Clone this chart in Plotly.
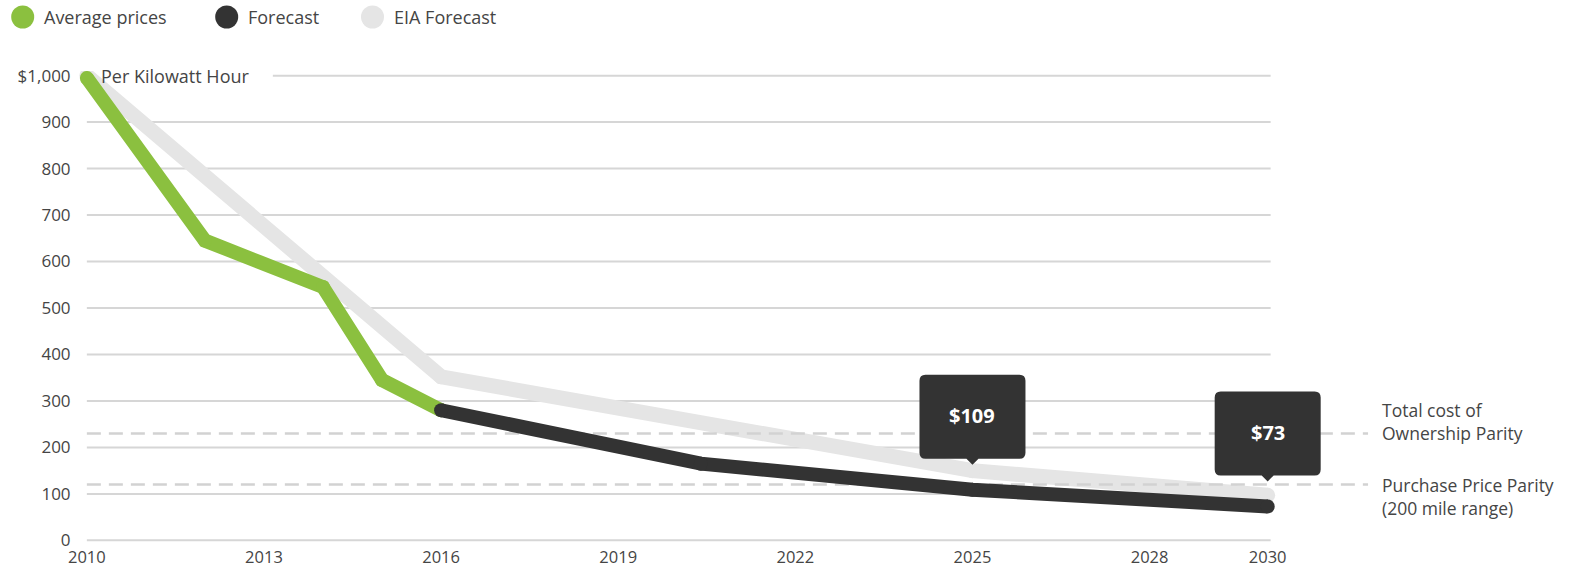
import plotly.graph_objects as go

# ---- data -------------------------------------------------------------
AVG_YEARS = [2010, 2012, 2014, 2015, 2016]
AVG_PRICE = [995, 645, 545, 345, 280]

FORECAST_YEARS = [2016, 2020.4, 2025, 2030]
FORECAST_PRICE = [280, 165, 109, 73]

EIA_YEARS = [2010, 2016, 2025, 2030]
EIA_PRICE = [1000, 352, 150, 97]

PARITY_LEVELS = [230, 120]
PARITY_LABELS = ["Total cost of<br>Ownership Parity", "Purchase Price Parity<br>(200 mile range)"]

CALLOUT_YEARS = [2025, 2030]

X_TICKS = [2010, 2013, 2016, 2019, 2022, 2025, 2028, 2030]
Y_TICKS = [0, 100, 200, 300, 400, 500, 600, 700, 800, 900, 1000]
Y_TICKTEXT = ["0", "100", "200", "300", "400", "500", "600", "700", "800", "900", "$1,000"]

LEGEND_NAMES = ["Average prices", "Forecast", "EIA Forecast"]

# ---- styling ----------------------------------------------------------
GREEN = "#8bc03f"
DARK = "#333333"
LIGHT = "#e5e5e5"
GRID = "#d6d6d6"
DASH = "#d2d2d2"
TEXT = "#454545"
FONT = "Open Sans"

W, H = 1580, 573
X_RANGE = [2009.85, 2031.75]
Y_RANGE = [-10, 1010]
M_L, M_R, M_T, M_B = 78, 209, 71, 28
PLOT_W = W - M_L - M_R
PLOT_H = H - M_T - M_B


def px_x(px):
    return (px - M_L) / PLOT_W


def px_y(py):
    return 1 - (py - M_T) / PLOT_H


fig = go.Figure()

# EIA forecast (bottom layer)
fig.add_trace(go.Scatter(
    x=EIA_YEARS, y=EIA_PRICE, mode="lines+markers",
    line=dict(color=LIGHT, width=15),
    marker=dict(color=LIGHT, size=15, line=dict(width=0)),
    showlegend=False, hoverinfo="skip"))

# parity reference lines
for lvl in PARITY_LEVELS:
    fig.add_trace(go.Scatter(
        x=[X_TICKS[0], X_RANGE[1] - 0.05], y=[lvl, lvl], mode="lines",
        line=dict(color=DASH, width=2.5, dash="14px,8px"),
        showlegend=False, hoverinfo="skip"))

# average prices
fig.add_trace(go.Scatter(
    x=AVG_YEARS, y=AVG_PRICE, mode="lines+markers",
    line=dict(color=GREEN, width=14),
    marker=dict(color=GREEN, size=14, line=dict(width=0)),
    showlegend=False, hoverinfo="skip"))

# forecast
fig.add_trace(go.Scatter(
    x=FORECAST_YEARS, y=FORECAST_PRICE, mode="lines+markers",
    line=dict(color=DARK, width=14),
    marker=dict(color=DARK, size=14, line=dict(width=0)),
    showlegend=False, hoverinfo="skip"))

shapes = []
annotations = []

# horizontal grid lines
grid_end = 2030.05
for v in Y_TICKS:
    x0 = 2013.15 if v == Y_TICKS[-1] else X_TICKS[0]
    shapes.append(dict(type="line", xref="x", yref="y", x0=x0, x1=grid_end, y0=v, y1=v,
                       line=dict(color=GRID, width=2), layer="below"))

# callouts with value labels
for yr in CALLOUT_YEARS:
    val = FORECAST_PRICE[FORECAST_YEARS.index(yr)]
    tip, base, top, hw, r = 25, 31, 115, 53, 6
    path = (f"M 0,{tip} L 6,{base} L {hw - r},{base} Q {hw},{base} {hw},{base + r} "
            f"L {hw},{top - r} Q {hw},{top} {hw - r},{top} L {-hw + r},{top} "
            f"Q {-hw},{top} {-hw},{top - r} L {-hw},{base + r} Q {-hw},{base} {-hw + r},{base} "
            f"L -6,{base} Z")
    shapes.append(dict(type="path", xref="x", yref="y", xsizemode="pixel", ysizemode="pixel",
                       xanchor=yr, yanchor=val, path=path, fillcolor=DARK,
                       line=dict(width=0), layer="above"))
    annotations.append(dict(x=yr, y=val, xref="x", yref="y", text=f"<b>${val}</b>",
                            showarrow=False, yshift=74, xanchor="center", yanchor="middle",
                            font=dict(family=FONT, size=20, color="white")))

# parity labels on the right
for lvl, lab, shift in zip(PARITY_LEVELS, PARITY_LABELS, [11.5, -11.5]):
    annotations.append(dict(x=px_x(1380), y=lvl, xref="paper", yref="y", text=lab,
                            showarrow=False, xanchor="left", yanchor="middle", align="left",
                            yshift=shift, font=dict(family=FONT, size=17.5, color=TEXT)))

# unit label next to the top tick
annotations.append(dict(x=2010.2, y=1000, xref="x", yref="y", text="Per Kilowatt Hour",
                        showarrow=False, xanchor="left", yanchor="middle",
                        font=dict(family=FONT, size=18, color=TEXT)))

# legend: circles and names
legend_colors = [GREEN, DARK, LIGHT]
legend_circle_px = [22.7, 226.7, 372.5]
legend_text_px = [42, 245.5, 392]
for name, col, cx, tx in zip(LEGEND_NAMES, legend_colors, legend_circle_px, legend_text_px):
    shapes.append(dict(type="circle", xref="paper", yref="paper", xsizemode="pixel",
                       ysizemode="pixel", xanchor=px_x(cx), yanchor=px_y(17),
                       x0=-11.5, x1=11.5, y0=-11.5, y1=11.5, fillcolor=col,
                       line=dict(width=0)))
    annotations.append(dict(x=px_x(tx), y=px_y(17), xref="paper", yref="paper", text=name,
                            showarrow=False, xanchor="left", yanchor="middle",
                            font=dict(family=FONT, size=18, color=TEXT)))

fig.update_layout(
    width=W, height=H,
    margin=dict(l=M_L, r=M_R, t=M_T, b=M_B, pad=0, autoexpand=False),
    paper_bgcolor="white", plot_bgcolor="white",
    showlegend=False,
    shapes=shapes, annotations=annotations,
    font=dict(family=FONT, color=TEXT),
    xaxis=dict(range=X_RANGE, tickvals=X_TICKS, ticktext=[str(t) for t in X_TICKS],
               showgrid=False, zeroline=False, showline=False, automargin=False,
               ticks="", ticklabelstandoff=0,
               tickfont=dict(family=FONT, size=16.5, color=TEXT), fixedrange=True),
    yaxis=dict(range=Y_RANGE, tickvals=Y_TICKS, ticktext=Y_TICKTEXT,
               showgrid=False, zeroline=False, showline=False, automargin=False,
               ticks="outside", ticklen=3, tickcolor="rgba(0,0,0,0)",
               tickfont=dict(family=FONT, size=17, color=TEXT), fixedrange=True),
)

fig.write_html("out.html", config={"displayModeBar": False})
